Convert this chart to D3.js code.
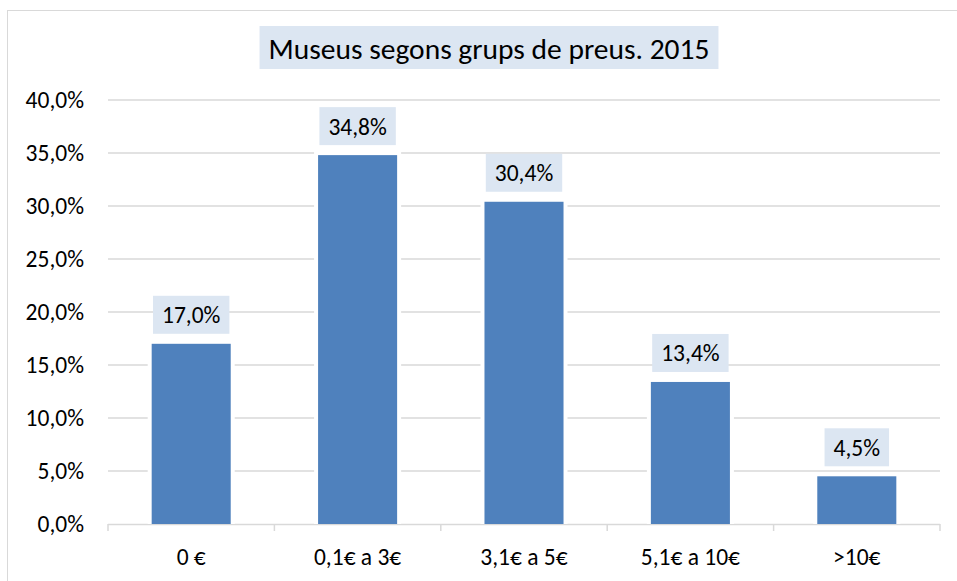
<!DOCTYPE html>
<html lang="ca">
<head>
<meta charset="UTF-8">
<title>Museus segons grups de preus. 2015</title>
<script src="https://d3js.org/d3.v7.min.js"></script>
<style>
  body { margin: 0; background: #fff; }
  svg text { font-family: Carlito, Calibri, Lato, "Open Sans", sans-serif; fill: #000; }
</style>
</head>
<body>
<div id="chart"></div>
<script>
// data
var categories = ["0 €", "0,1€ a 3€", "3,1€ a 5€", "5,1€ a 10€", ">10€"];
var values = [17.0, 34.8, 30.4, 13.4, 4.5];
var yTicks = [0, 5, 10, 15, 20, 25, 30, 35, 40];
var title = "Museus segons grups de preus. 2015";

var W = 957, H = 581;
var plotLeft = 108, plotRight = 940, plotTop = 100, plotBottom = 524;

var ca = d3.formatLocale({decimal: ",", thousands: ".", grouping: [3], currency: ["", "€"]});
var pct = function (d) { return ca.format(".1f")(d) + "%"; };

var svg = d3.select("#chart").append("svg")
    .attr("width", W)
    .attr("height", H);

// chart area border
svg.append("rect")
    .attr("x", 7.5).attr("y", 10.5)
    .attr("width", W + 10).attr("height", H + 10)
    .attr("fill", "#fff")
    .attr("stroke", "#d9d9d9");

var x = d3.scaleBand()
    .domain(categories)
    .range([plotLeft, plotRight])
    .paddingInner(0.525)
    .paddingOuter(0.2625);

var y = d3.scaleLinear()
    .domain([0, 40])
    .range([plotBottom, plotTop]);

// gridlines
svg.append("g")
  .selectAll("line")
  .data(yTicks.filter(function (d) { return d > 0; }))
  .enter().append("line")
    .attr("x1", plotLeft).attr("x2", plotRight)
    .attr("y1", function (d) { return y(d); })
    .attr("y2", function (d) { return y(d); })
    .attr("stroke", "#d9d9d9")
    .attr("stroke-width", 1.5);

// y labels
svg.append("g")
  .selectAll("text")
  .data(yTicks)
  .enter().append("text")
    .attr("x", 84)
    .attr("y", function (d) { return y(d); })
    .attr("dy", "0.36em")
    .attr("text-anchor", "end")
    .style("font-size", "23.5px")
    .text(pct);

// x axis
var xAxis = svg.append("g")
    .attr("transform", "translate(0," + plotBottom + ")")
    .call(d3.axisBottom(x).tickSize(0).tickPadding(24));
xAxis.select(".domain").remove();
xAxis.selectAll("text")
    .style("font-size", "23.5px")
    .attr("fill", "#000");

svg.append("line")
    .attr("x1", plotLeft).attr("x2", plotRight)
    .attr("y1", plotBottom + 0.5).attr("y2", plotBottom + 0.5)
    .attr("stroke", "#d9d9d9")
    .attr("stroke-width", 1.5);

svg.append("g")
  .selectAll("line")
  .data(d3.range(categories.length + 1))
  .enter().append("line")
    .attr("x1", function (i) { return plotLeft + i * x.step(); })
    .attr("x2", function (i) { return plotLeft + i * x.step(); })
    .attr("y1", plotBottom).attr("y2", plotBottom + 7)
    .attr("stroke", "#d9d9d9")
    .attr("stroke-width", 1.5);

// white halo behind bars (hides gridlines next to bars)
svg.append("g")
  .selectAll("rect")
  .data(values)
  .enter().append("rect")
    .attr("x", function (d, i) { return x(categories[i]) - 4; })
    .attr("y", function (d) { return y(d) - 4; })
    .attr("width", x.bandwidth() + 8)
    .attr("height", function (d) { return plotBottom - y(d) + 4; })
    .attr("fill", "#fff");

// bars
svg.append("g")
  .selectAll("rect")
  .data(values)
  .enter().append("rect")
    .attr("x", function (d, i) { return x(categories[i]); })
    .attr("y", function (d) { return y(d); })
    .attr("width", x.bandwidth())
    .attr("height", function (d) { return plotBottom - y(d); })
    .attr("fill", "#4f81bd");

// data labels with boxes
var labels = svg.append("g")
  .selectAll("g")
  .data(values)
  .enter().append("g")
    .attr("transform", function (d, i) {
      return "translate(" + (x(categories[i]) + x.bandwidth() / 2) + "," + (y(d) - 10) + ")";
    });

labels.append("rect").attr("fill", "#dce6f2");
labels.append("text")
    .attr("text-anchor", "middle")
    .attr("y", -19)
    .attr("dy", "0.36em")
    .style("font-size", "23.5px")
    .text(pct);
labels.each(function () {
  var g = d3.select(this);
  var w = g.select("text").node().getComputedTextLength();
  g.select("rect")
    .attr("x", -w / 2 - 9).attr("y", -38)
    .attr("width", w + 18).attr("height", 38);
});

// title
var tg = svg.append("g");
var tb = tg.append("rect").attr("fill", "#dce6f2");
var tt = tg.append("text")
    .attr("x", 489)
    .attr("y", 48)
    .attr("dy", "0.36em")
    .attr("text-anchor", "middle")
    .style("font-size", "29.5px")
    .text(title);
var tw = tt.node().getComputedTextLength();
tb.attr("x", 489 - tw / 2 - 9).attr("y", 26)
  .attr("width", tw + 18).attr("height", 43);
</script>
</body>
</html>
